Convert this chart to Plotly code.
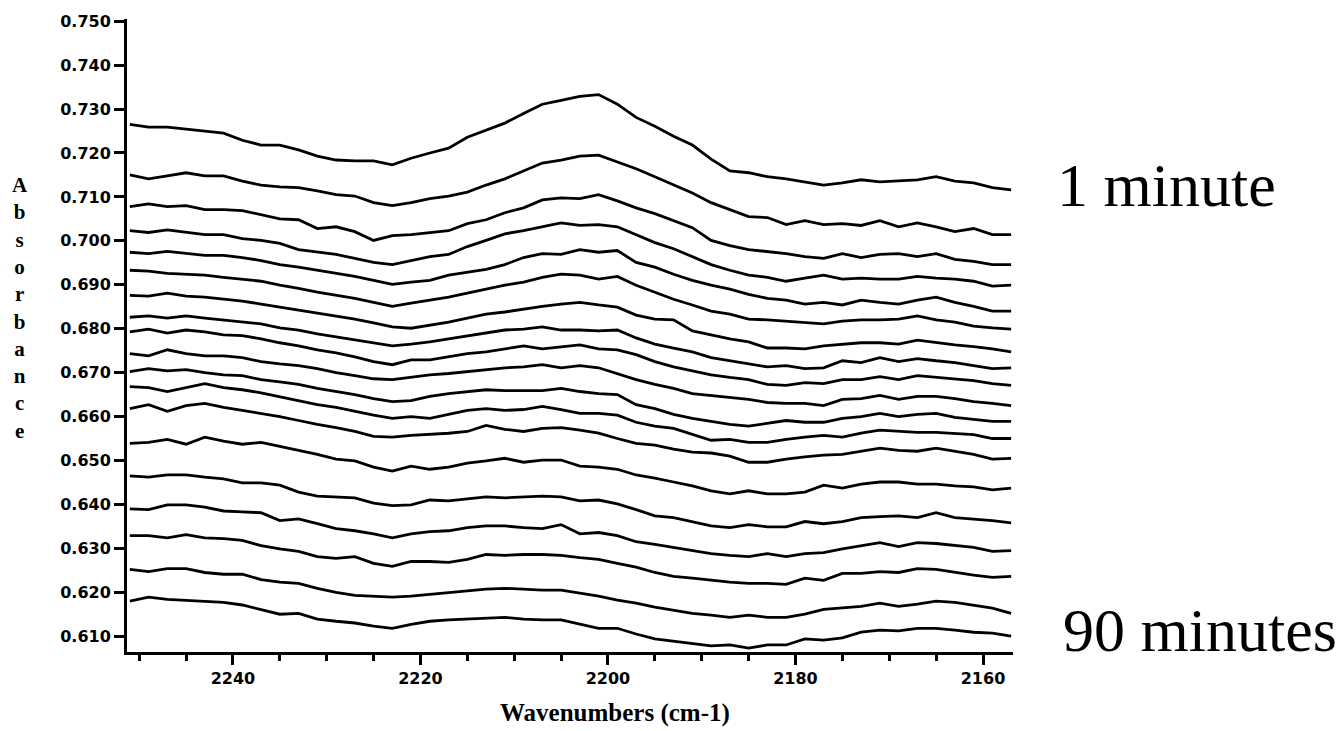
import plotly.graph_objects as go

wavenumbers = [2251,2249,2247,2245,2243,2241,2239,2237,2235,2233,2231,2229,2227,2225,2223,2221,
               2219,2217,2215,2213,2211,2209,2207,2205,2203,2201,2199,2197,2195,2193,2191,2189,
               2187,2185,2183,2181,2179,2177,2175,2173,2171,2169,2167,2165,2163,2161,2159,2157]

spectrum_01 = [0.7265,0.7259,0.7259,0.7254,0.7250,0.7245,0.7229,0.7218,0.7218,0.7207,0.7193,0.7184,0.7182,0.7182,0.7173,0.7188,0.7200,0.7211,0.7236,0.7252,0.7268,0.7290,0.7311,0.7320,0.7329,0.7333,0.7311,0.7281,0.7261,0.7238,0.7218,0.7186,0.7159,0.7155,0.7146,0.7141,0.7134,0.7127,0.7132,0.7139,0.7134,0.7136,0.7139,0.7146,0.7136,0.7132,0.7121,0.7116]
spectrum_02 = [0.7150,0.7141,0.7148,0.7155,0.7148,0.7148,0.7136,0.7127,0.7123,0.7121,0.7114,0.7105,0.7102,0.7087,0.7080,0.7087,0.7096,0.7102,0.7111,0.7127,0.7141,0.7159,0.7177,0.7184,0.7193,0.7195,0.7179,0.7164,0.7146,0.7127,0.7109,0.7087,0.7071,0.7055,0.7053,0.7037,0.7046,0.7037,0.7039,0.7035,0.7046,0.7032,0.7041,0.7032,0.7021,0.7028,0.7014,0.7014]
spectrum_03 = [0.7078,0.7084,0.7078,0.7080,0.7071,0.7071,0.7069,0.7060,0.7050,0.7048,0.7028,0.7032,0.7021,0.7001,0.7012,0.7014,0.7019,0.7023,0.7039,0.7048,0.7064,0.7075,0.7093,0.7098,0.7096,0.7105,0.7091,0.7075,0.7062,0.7046,0.7030,0.7001,0.6989,0.6980,0.6976,0.6971,0.6964,0.6960,0.6971,0.6962,0.6969,0.6971,0.6964,0.6971,0.6958,0.6953,0.6946,0.6946]
spectrum_04 = [0.7023,0.7019,0.7025,0.7019,0.7014,0.7014,0.7005,0.7001,0.6994,0.6980,0.6974,0.6969,0.6960,0.6951,0.6946,0.6955,0.6964,0.6969,0.6987,0.7001,0.7016,0.7023,0.7032,0.7041,0.7035,0.7037,0.7032,0.7014,0.6996,0.6982,0.6964,0.6946,0.6933,0.6922,0.6917,0.6908,0.6915,0.6922,0.6913,0.6915,0.6913,0.6913,0.6919,0.6915,0.6913,0.6908,0.6897,0.6899]
spectrum_05 = [0.6974,0.6971,0.6976,0.6971,0.6967,0.6967,0.6962,0.6955,0.6946,0.6940,0.6933,0.6926,0.6919,0.6910,0.6901,0.6906,0.6910,0.6922,0.6928,0.6935,0.6946,0.6962,0.6971,0.6969,0.6980,0.6974,0.6978,0.6951,0.6940,0.6924,0.6910,0.6899,0.6890,0.6878,0.6869,0.6865,0.6856,0.6860,0.6854,0.6865,0.6860,0.6856,0.6865,0.6872,0.6860,0.6851,0.6840,0.6840]
spectrum_06 = [0.6933,0.6931,0.6926,0.6924,0.6922,0.6917,0.6913,0.6908,0.6899,0.6892,0.6883,0.6876,0.6869,0.6860,0.6851,0.6858,0.6865,0.6872,0.6881,0.6890,0.6899,0.6906,0.6917,0.6924,0.6922,0.6913,0.6919,0.6899,0.6883,0.6867,0.6854,0.6840,0.6833,0.6822,0.6820,0.6817,0.6813,0.6811,0.6817,0.6820,0.6820,0.6822,0.6829,0.6820,0.6815,0.6806,0.6802,0.6799]
spectrum_07 = [0.6876,0.6874,0.6881,0.6874,0.6872,0.6867,0.6863,0.6856,0.6849,0.6842,0.6835,0.6829,0.6822,0.6813,0.6804,0.6801,0.6808,0.6815,0.6824,0.6833,0.6838,0.6845,0.6851,0.6856,0.6860,0.6854,0.6849,0.6831,0.6822,0.6820,0.6795,0.6786,0.6777,0.6770,0.6756,0.6756,0.6754,0.6761,0.6765,0.6768,0.6768,0.6765,0.6774,0.6768,0.6763,0.6759,0.6754,0.6747]
spectrum_08 = [0.6826,0.6829,0.6824,0.6829,0.6824,0.6820,0.6815,0.6811,0.6802,0.6797,0.6788,0.6781,0.6774,0.6768,0.6761,0.6765,0.6770,0.6777,0.6784,0.6790,0.6797,0.6799,0.6804,0.6797,0.6797,0.6795,0.6797,0.6779,0.6765,0.6756,0.6747,0.6734,0.6727,0.6720,0.6713,0.6716,0.6709,0.6711,0.6727,0.6723,0.6734,0.6725,0.6732,0.6727,0.6723,0.6716,0.6709,0.6711]
spectrum_09 = [0.6793,0.6799,0.6790,0.6797,0.6793,0.6786,0.6784,0.6777,0.6768,0.6761,0.6752,0.6745,0.6736,0.6725,0.6718,0.6729,0.6729,0.6736,0.6743,0.6747,0.6754,0.6761,0.6754,0.6759,0.6763,0.6754,0.6752,0.6741,0.6725,0.6713,0.6704,0.6695,0.6689,0.6684,0.6673,0.6671,0.6677,0.6675,0.6684,0.6684,0.6691,0.6684,0.6693,0.6689,0.6686,0.6682,0.6675,0.6671]
spectrum_10 = [0.6743,0.6738,0.6752,0.6743,0.6738,0.6738,0.6734,0.6725,0.6720,0.6716,0.6709,0.6700,0.6693,0.6686,0.6684,0.6689,0.6695,0.6698,0.6702,0.6707,0.6711,0.6713,0.6718,0.6711,0.6716,0.6711,0.6698,0.6684,0.6673,0.6664,0.6652,0.6648,0.6643,0.6639,0.6632,0.6630,0.6630,0.6625,0.6639,0.6641,0.6648,0.6639,0.6646,0.6646,0.6641,0.6634,0.6630,0.6625]
spectrum_11 = [0.6702,0.6709,0.6704,0.6707,0.6700,0.6695,0.6693,0.6684,0.6679,0.6673,0.6664,0.6657,0.6650,0.6641,0.6634,0.6636,0.6646,0.6652,0.6657,0.6661,0.6659,0.6659,0.6659,0.6664,0.6657,0.6652,0.6650,0.6627,0.6618,0.6605,0.6596,0.6589,0.6582,0.6578,0.6584,0.6591,0.6587,0.6587,0.6596,0.6600,0.6607,0.6600,0.6605,0.6607,0.6598,0.6594,0.6589,0.6589]
spectrum_12 = [0.6668,0.6666,0.6657,0.6666,0.6675,0.6666,0.6661,0.6654,0.6645,0.6636,0.6627,0.6621,0.6612,0.6603,0.6596,0.6600,0.6596,0.6605,0.6614,0.6618,0.6614,0.6616,0.6623,0.6616,0.6607,0.6607,0.6603,0.6587,0.6578,0.6573,0.6559,0.6546,0.6548,0.6541,0.6541,0.6548,0.6553,0.6557,0.6553,0.6562,0.6569,0.6566,0.6564,0.6564,0.6562,0.6559,0.6550,0.6550]
spectrum_13 = [0.6618,0.6627,0.6612,0.6625,0.6630,0.6621,0.6614,0.6607,0.6600,0.6591,0.6582,0.6575,0.6566,0.6555,0.6553,0.6557,0.6559,0.6562,0.6566,0.6580,0.6571,0.6566,0.6573,0.6575,0.6569,0.6562,0.6550,0.6539,0.6535,0.6526,0.6519,0.6517,0.6510,0.6496,0.6496,0.6503,0.6508,0.6512,0.6514,0.6521,0.6528,0.6523,0.6521,0.6528,0.6521,0.6514,0.6503,0.6505]
spectrum_14 = [0.6539,0.6541,0.6548,0.6537,0.6553,0.6544,0.6537,0.6541,0.6532,0.6523,0.6514,0.6503,0.6499,0.6485,0.6476,0.6487,0.6480,0.6485,0.6494,0.6499,0.6505,0.6496,0.6501,0.6501,0.6487,0.6485,0.6480,0.6467,0.6460,0.6451,0.6442,0.6431,0.6424,0.6431,0.6424,0.6424,0.6428,0.6444,0.6437,0.6446,0.6451,0.6451,0.6446,0.6446,0.6442,0.6440,0.6433,0.6437]
spectrum_15 = [0.6465,0.6462,0.6467,0.6467,0.6462,0.6458,0.6449,0.6449,0.6444,0.6428,0.6419,0.6417,0.6415,0.6403,0.6397,0.6399,0.6410,0.6408,0.6413,0.6417,0.6415,0.6417,0.6419,0.6417,0.6408,0.6410,0.6401,0.6388,0.6374,0.6370,0.6361,0.6351,0.6347,0.6354,0.6349,0.6349,0.6361,0.6356,0.6361,0.6370,0.6372,0.6374,0.6370,0.6381,0.6370,0.6367,0.6363,0.6358]
spectrum_16 = [0.6390,0.6388,0.6399,0.6399,0.6394,0.6385,0.6383,0.6381,0.6363,0.6367,0.6356,0.6345,0.6340,0.6333,0.6324,0.6333,0.6338,0.6340,0.6347,0.6351,0.6351,0.6347,0.6345,0.6354,0.6333,0.6336,0.6329,0.6315,0.6309,0.6302,0.6295,0.6288,0.6284,0.6281,0.6288,0.6281,0.6288,0.6290,0.6299,0.6306,0.6313,0.6304,0.6313,0.6311,0.6306,0.6302,0.6293,0.6295]
spectrum_17 = [0.6329,0.6329,0.6324,0.6331,0.6324,0.6322,0.6318,0.6306,0.6299,0.6293,0.6281,0.6277,0.6281,0.6266,0.6259,0.6270,0.6270,0.6268,0.6275,0.6286,0.6284,0.6286,0.6286,0.6284,0.6279,0.6275,0.6266,0.6257,0.6245,0.6236,0.6232,0.6227,0.6223,0.6220,0.6220,0.6218,0.6232,0.6227,0.6243,0.6243,0.6247,0.6245,0.6254,0.6252,0.6245,0.6239,0.6234,0.6236]
spectrum_18 = [0.6252,0.6247,0.6254,0.6254,0.6245,0.6241,0.6241,0.6229,0.6223,0.6220,0.6209,0.6200,0.6193,0.6191,0.6189,0.6191,0.6195,0.6198,0.6202,0.6207,0.6209,0.6207,0.6205,0.6205,0.6198,0.6191,0.6182,0.6175,0.6166,0.6159,0.6152,0.6148,0.6143,0.6148,0.6143,0.6143,0.6150,0.6161,0.6164,0.6168,0.6175,0.6168,0.6173,0.6180,0.6177,0.6171,0.6164,0.6152]
spectrum_19 = [0.6180,0.6189,0.6184,0.6182,0.6180,0.6177,0.6171,0.6161,0.6150,0.6152,0.6139,0.6134,0.6130,0.6123,0.6118,0.6127,0.6134,0.6137,0.6139,0.6141,0.6143,0.6139,0.6137,0.6137,0.6127,0.6118,0.6118,0.6105,0.6094,0.6089,0.6084,0.6078,0.6080,0.6073,0.6080,0.6080,0.6094,0.6091,0.6096,0.6109,0.6114,0.6112,0.6118,0.6118,0.6114,0.6109,0.6107,0.6100]

spectra = [spectrum_01, spectrum_02, spectrum_03, spectrum_04, spectrum_05, spectrum_06, spectrum_07,
           spectrum_08, spectrum_09, spectrum_10, spectrum_11, spectrum_12, spectrum_13, spectrum_14,
           spectrum_15, spectrum_16, spectrum_17, spectrum_18, spectrum_19]

for i, s in enumerate(spectra):
    if len(s) != len(wavenumbers):
        raise ValueError(f"spectrum {i+1} has {len(s)} points")

first_label = "1 minute"
last_label = "90 minutes"
y_ticks = [0.610, 0.620, 0.630, 0.640, 0.650, 0.660, 0.670, 0.680, 0.690, 0.700,
           0.710, 0.720, 0.730, 0.740, 0.750]
y_ticktext = ["%.3f" % v for v in y_ticks]
x_ticks = [2240, 2220, 2200, 2180, 2160]

fig = go.Figure()
for s in spectra:
    fig.add_trace(go.Scatter(x=wavenumbers, y=s, mode="lines",
                             line=dict(color="black", width=2.8),
                             showlegend=False, hoverinfo="skip"))

tick_font = dict(family="DejaVu Sans", size=16, color="black", weight="bold")

fig.update_layout(
    width=1344, height=731,
    margin=dict(l=127, r=331, t=15, b=79),
    paper_bgcolor="white", plot_bgcolor="white",
    xaxis=dict(range=[2251.3, 2156.8], tickvals=x_ticks, ticks="outside",
               ticklen=10, tickwidth=3, tickcolor="black",
               showline=True, linewidth=3, linecolor="black",
               showgrid=False, zeroline=False, tickfont=tick_font,
               minor=dict(dtick=5, tick0=2160, ticks="outside", ticklen=6,
                          tickwidth=2.5, tickcolor="black", showgrid=False)),
    yaxis=dict(range=[0.6064, 0.7505], tickvals=y_ticks, ticktext=y_ticktext,
               ticks="outside", ticklen=10, tickwidth=2.5, tickcolor="black",
               showline=True, linewidth=3, linecolor="black",
               showgrid=False, zeroline=False, tickfont=tick_font),
)

fig.add_annotation(text="A<br>b<br>s<br>o<br>r<br>b<br>a<br>n<br>c<br>e",
                   xref="paper", yref="paper", x=(20 - 127) / 886, y=(652 - 306) / 637,
                   xanchor="center", yanchor="middle", showarrow=False,
                   font=dict(family="Liberation Serif", size=21, color="black", weight="bold"))
fig.add_annotation(text="Wavenumbers (cm-1)",
                   xref="paper", yref="paper", x=(615 - 127) / 886, y=(652 - 713) / 637,
                   xanchor="center", yanchor="middle", showarrow=False,
                   font=dict(family="Liberation Serif", size=25, color="black", weight="bold"))
fig.add_annotation(text=first_label, xref="paper", yref="paper",
                   x=(1055 - 127) / 886, y=(652 - 182) / 637,
                   xanchor="left", yanchor="middle", showarrow=False,
                   font=dict(family="Liberation Serif", size=62, color="black"))
fig.add_annotation(text=last_label, xref="paper", yref="paper",
                   x=(1061 - 127) / 886, y=(652 - 630) / 637,
                   xanchor="left", yanchor="middle", showarrow=False,
                   font=dict(family="Liberation Serif", size=62, color="black"))

fig.write_html("out.html")
